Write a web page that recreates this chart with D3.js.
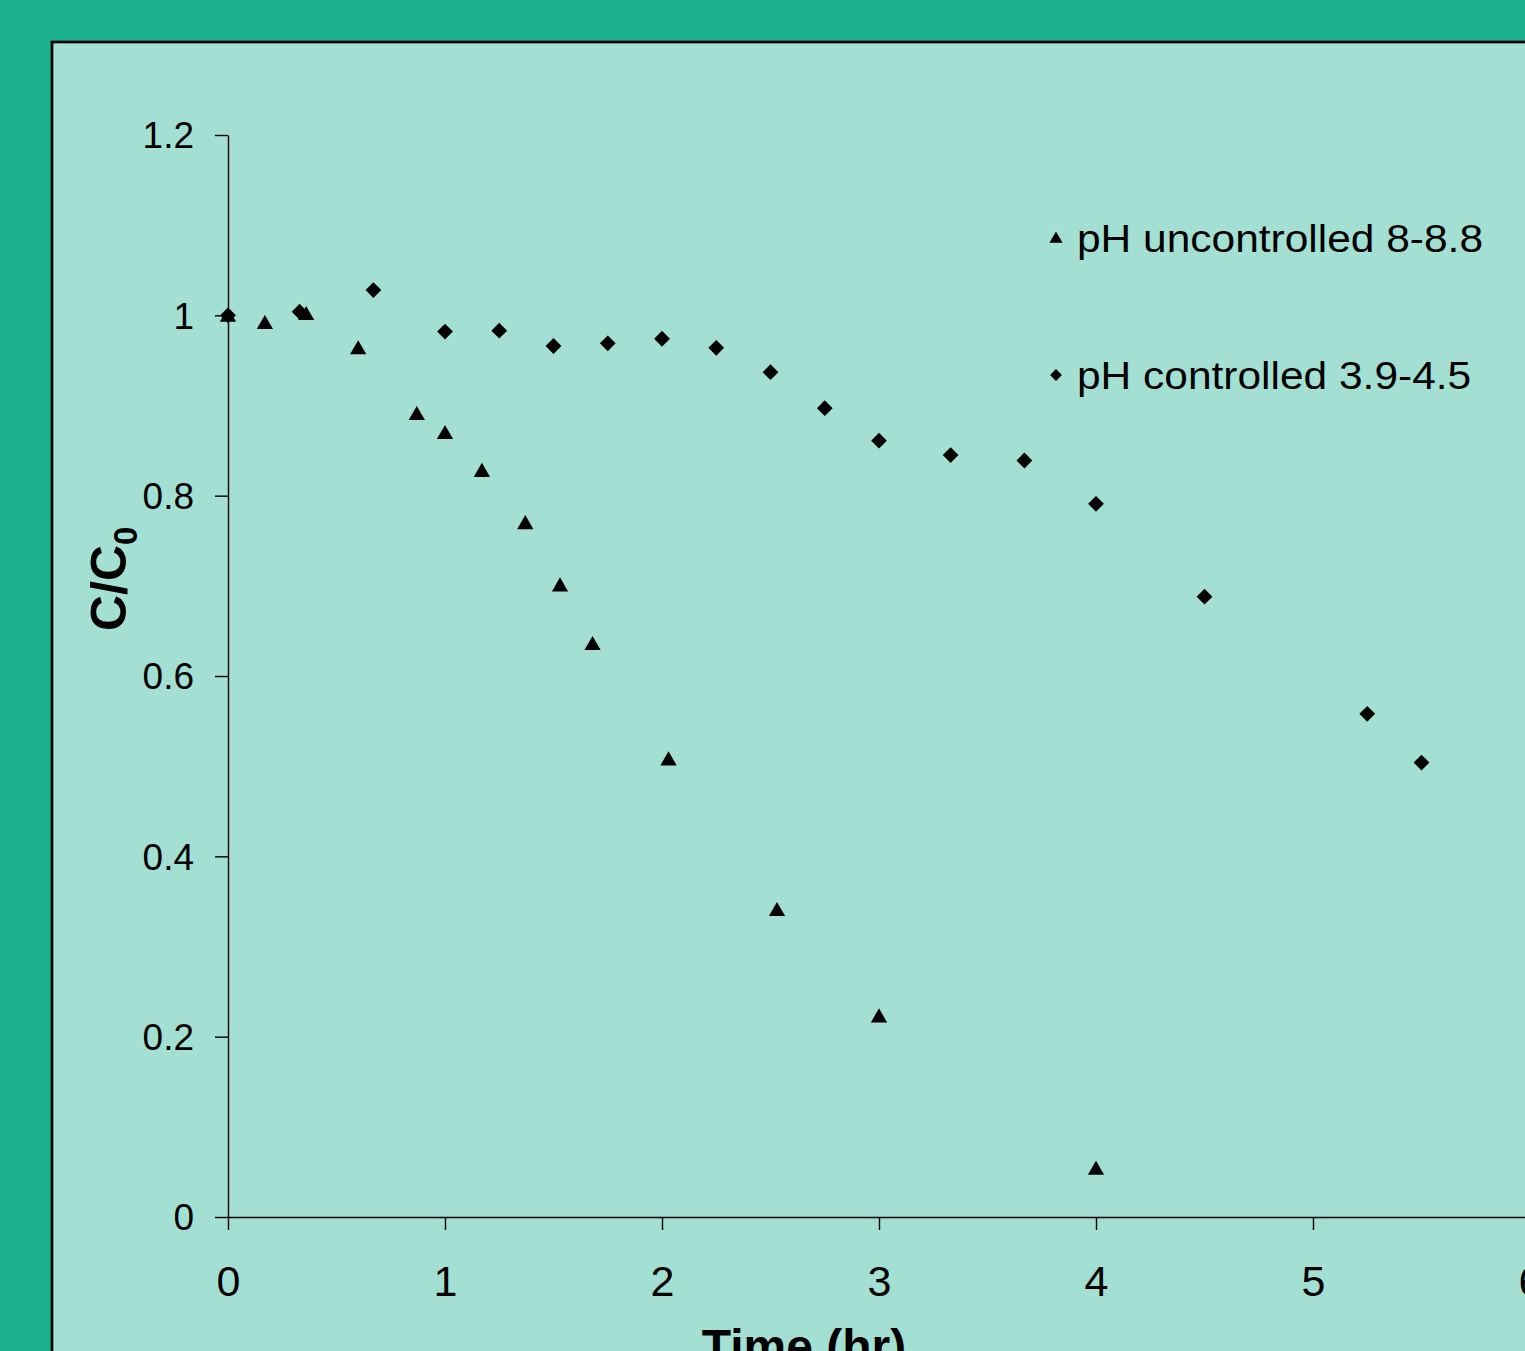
<html lang="en">
<head>
  <meta http-equiv="Content-Type" content="text/html; charset=utf-8" />
  <script src="https://d3js.org/d3.v7.min.js"></script>
  <style>
    body { margin: 0; background: #1BB18C; overflow: hidden; }
    text { font-family: "Liberation Sans", Arial, sans-serif; fill: #000; }
  </style>
</head>
<body>
  <div id="chart"></div>
  <script>
    'use strict';
    // data
    const timeUncontrolled = [0, 0.17, 0.36, 0.60, 0.87, 1.0, 1.17, 1.37, 1.53, 1.68, 2.03, 2.53, 3.0, 4.0];
    const ratioUncontrolled = [0.998, 0.990, 1.0, 0.962, 0.889, 0.868, 0.826, 0.768, 0.699, 0.634, 0.506, 0.339, 0.221, 0.052];
    const timeControlled = [0, 0.33, 0.67, 1.0, 1.25, 1.5, 1.75, 2.0, 2.25, 2.5, 2.75, 3.0, 3.33, 3.67, 4.0, 4.5, 5.25, 5.5];
    const ratioControlled = [1.0, 1.004, 1.028, 0.982, 0.983, 0.966, 0.969, 0.974, 0.964, 0.937, 0.897, 0.861, 0.845, 0.839, 0.791, 0.688, 0.558, 0.504];
    const xTicks = [0, 1, 2, 3, 4, 5, 6];
    const yTicks = [0, 0.2, 0.4, 0.6, 0.8, 1, 1.2];
    const yTickLabels = ["0", "0.2", "0.4", "0.6", "0.8", "1", "1.2"];
    const seriesNames = ["pH uncontrolled 8-8.8", "pH controlled 3.9-4.5"];

    const svgWidth = 1525;
    const svgHeight = 1351;

    const svg = d3.select("#chart").append("svg")
      .attr("width", svgWidth)
      .attr("height", svgHeight);

    // light panel with black border
    svg.append("rect")
      .attr("x", 52).attr("y", 42)
      .attr("width", 1600).attr("height", 1500)
      .attr("fill", "#A3E0D3")
      .attr("stroke", "#000").attr("stroke-width", 2.7);

    const x = d3.scaleLinear().domain([0, 6]).range([228, 1530]);
    const y = d3.scaleLinear().domain([0, 1.2]).range([1217, 135]);

    // y axis
    const yAxis = svg.append("g")
      .attr("transform", "translate(228,0)")
      .call(d3.axisLeft(y).tickValues(yTicks).tickSize(13).tickSizeOuter(0)
        .tickFormat((d, i) => yTickLabels[i]));
    yAxis.selectAll("path, line").attr("stroke", "#000").attr("stroke-width", 1.4);
    yAxis.selectAll("text")
      .attr("x", -34).attr("dy", "0.35em")
      .attr("font-size", 37).attr("font-family", "Liberation Sans, Arial").attr("fill", "#000");

    // x axis
    const xAxis = svg.append("g")
      .attr("transform", "translate(0,1217)")
      .call(d3.axisBottom(x).tickValues(xTicks).tickSize(13).tickSizeOuter(0)
        .tickFormat(d3.format("d")));
    xAxis.selectAll("path, line").attr("stroke", "#000").attr("stroke-width", 1.4);
    xAxis.selectAll("text")
      .attr("y", 79).attr("dy", 0)
      .attr("font-size", 43).attr("font-family", "Liberation Sans, Arial").attr("fill", "#000");

    // axis titles
    const yTitle = svg.append("text")
      .attr("transform", "translate(126,631) rotate(-90)")
      .attr("font-size", 50).attr("font-weight", "bold");
    yTitle.append("tspan").text("C/C");
    yTitle.append("tspan").attr("font-size", 33).attr("dy", 11).text("0");

    svg.append("text")
      .attr("x", 804).attr("y", 1363)
      .attr("text-anchor", "middle")
      .attr("font-size", 48).attr("font-weight", "bold")
      .text("Time (hr)");

    // markers
    const tri = d3.symbol().type(d3.symbolTriangle).size(115);
    const dia = d3.symbol().type(d3.symbolSquare).size(125);

    svg.append("g").selectAll("path")
      .data(timeUncontrolled)
      .join("path")
      .attr("d", tri)
      .attr("transform", (d, i) => `translate(${x(d)},${y(ratioUncontrolled[i])})`)
      .attr("fill", "#000");

    svg.append("g").selectAll("path")
      .data(timeControlled)
      .join("path")
      .attr("d", dia)
      .attr("transform", (d, i) => `translate(${x(d)},${y(ratioControlled[i])}) rotate(45)`)
      .attr("fill", "#000");

    // legend
    const legend = svg.append("g");
    const legendY = [238, 375];
    legend.append("path")
      .attr("d", d3.symbol().type(d3.symbolTriangle).size(75))
      .attr("transform", `translate(1056,${legendY[0] + 1})`);
    legend.append("path")
      .attr("d", d3.symbol().type(d3.symbolSquare).size(70))
      .attr("transform", `translate(1056,${legendY[1]}) rotate(45)`);
    legend.selectAll("text")
      .data(seriesNames)
      .join("text")
      .attr("transform", (d, i) => `translate(1077,${legendY[i] + 14}) scale(1.089,1)`)
      .attr("font-size", 39)
      .text(d => d);
  </script>
</body>
</html>
